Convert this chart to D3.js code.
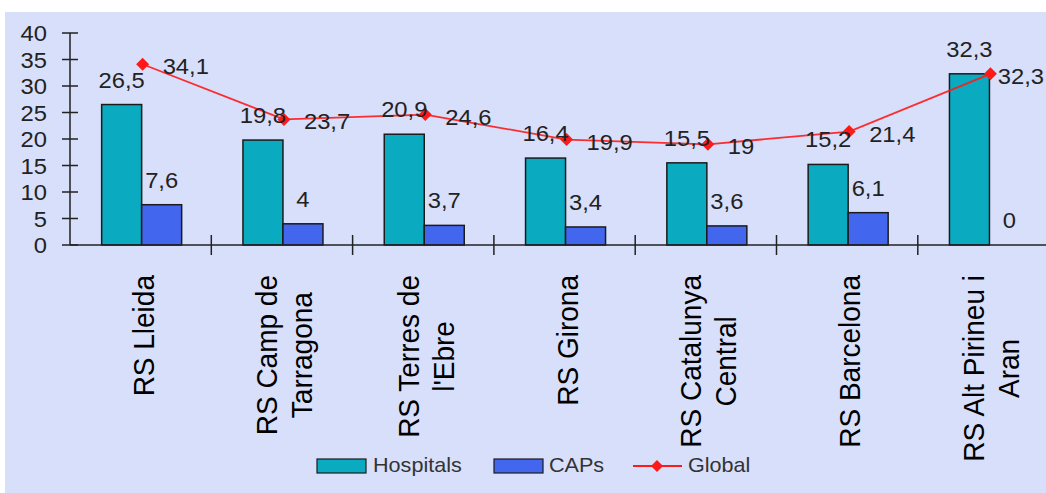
<!DOCTYPE html>
<html>
<head>
<meta charset="utf-8">
<script src="https://cdn.jsdelivr.net/npm/d3@7"></script>
<style>
  html, body { margin: 0; padding: 0; background: #ffffff; }
  svg { display: block; font-family: "Liberation Sans", Arial, sans-serif; }
</style>
</head>
<body>
<svg id="chart" width="1046" height="493"></svg>
<script>
// Regions and their rates
const categories = [
  "RS Lleida",
  "RS Camp de\nTarragona",
  "RS Terres de\nl'Ebre",
  "RS Girona",
  "RS Catalunya\nCentral",
  "RS Barcelona",
  "RS Alt Pirineu i\nAran"
];
const hospitals = [26.5, 19.8, 20.9, 16.4, 15.5, 15.2, 32.3];
const caps      = [7.6, 4, 3.7, 3.4, 3.6, 6.1, 0];
const global    = [34.1, 23.7, 24.6, 19.9, 19, 21.4, 32.3];
const yTicks    = [0, 5, 10, 15, 20, 25, 30, 35, 40];
const seriesNames = ["Hospitals", "CAPs", "Global"];

const colors = { hospitals: "#0aabc1", caps: "#4366ee", global: "#ff1a1a", bg: "#d8dffa" };
const fmt = v => String(v).replace(".", ",");
const SX = 1.08; // slight horizontal stretch of the lettering

const svg = d3.select("#chart");
const W = 1046, H = 493;

// panel background
svg.append("rect").attr("x", 5).attr("y", 12).attr("width", W - 5).attr("height", H - 12)
  .attr("fill", colors.bg);

const y = d3.scaleLinear().domain([0, 40]).range([245, 33]);
const x = d3.scaleBand().domain(categories).range([70, 70 + 7 * 141.3]).padding(0);
const sub = d3.scaleBand().domain(["Hospitals", "CAPs"]).range([-39, 41]).padding(0);
const cx = c => x(c) + x.bandwidth() / 2;

const rows = categories.map((c, i) => ({ c, h: hospitals[i], p: caps[i], g: global[i] }));

function stretchedText(g, tx, ty, str, anchor, size, fill) {
  return g.append("text")
    .attr("transform", `translate(${tx},${ty}) scale(${SX},1)`)
    .attr("text-anchor", anchor)
    .attr("font-size", size)
    .attr("fill", fill)
    .text(str);
}

// bars
const barG = svg.append("g");
rows.forEach(r => {
  [["Hospitals", r.h, colors.hospitals], ["CAPs", r.p, colors.caps]].forEach(([k, v, col]) => {
    barG.append("rect")
      .attr("x", cx(r.c) + sub(k))
      .attr("y", y(v))
      .attr("width", sub.bandwidth())
      .attr("height", y(0) - y(v))
      .attr("fill", col)
      .attr("stroke", "#1b1b1b")
      .attr("stroke-width", 1.5);
  });
});

// axes
const axG = svg.append("g").attr("stroke", "#222").attr("stroke-width", 1.5);
axG.append("line").attr("x1", 70).attr("x2", 70).attr("y1", y(40)).attr("y2", y(0));
axG.append("line").attr("x1", 70).attr("x2", W).attr("y1", y(0)).attr("y2", y(0));
yTicks.forEach(t => {
  axG.append("line").attr("x1", 62).attr("x2", 78).attr("y1", y(t)).attr("y2", y(t));
});
categories.slice(1).forEach(c => {
  axG.append("line").attr("x1", x(c)).attr("x2", x(c)).attr("y1", y(0) - 10).attr("y2", y(0) + 10);
});

// y tick labels
const tickG = svg.append("g");
yTicks.forEach(t => stretchedText(tickG, 47, y(t) + 8, t, "end", 22, "#222"));

// global line
const line = d3.line().x(d => cx(d.c) + 2).y(d => y(d.g));
svg.append("path").datum(rows).attr("d", line)
  .attr("fill", "none").attr("stroke", colors.global).attr("stroke-width", 1.8)
  .attr("opacity", 0.9);

const diamond = s => `M0,${-s}L${s},0L0,${s}L${-s},0Z`;
svg.append("g").selectAll("path").data(rows).join("path")
  .attr("transform", d => `translate(${cx(d.c) + 2},${y(d.g)})`)
  .attr("d", diamond(6.5))
  .attr("fill", colors.global);

// value labels
const lblG = svg.append("g");
rows.forEach(r => {
  stretchedText(lblG, cx(r.c) + sub("Hospitals") + sub.bandwidth() / 2, y(r.h) - 17, fmt(r.h), "middle", 22, "#222");
  stretchedText(lblG, cx(r.c) + sub("CAPs") + sub.bandwidth() / 2, y(r.p) - 17, fmt(r.p), "middle", 22, "#222");
  const gl = stretchedText(lblG, cx(r.c) + 22, y(r.g) + 10, fmt(r.g), "start", 22, "#222");
  // keep the rightmost label inside the panel
  const w = gl.node().getComputedTextLength() * SX;
  if (cx(r.c) + 22 + w > W - 2) {
    gl.attr("transform", `translate(${W - 2},${y(r.g) + 10}) scale(${SX},1)`).attr("text-anchor", "end");
  }
});

// category labels, rotated, longest line ending at a common top
const catG = svg.append("g");
const lineGap = 35, topY = 275;
categories.forEach(c => {
  const lines = c.split("\n");
  const n = lines.length;
  const texts = lines.map((ln, i) => catG.append("text")
    .attr("font-size", 28).attr("fill", "#000").attr("text-anchor", "middle").text(ln));
  const maxLen = d3.max(texts, t => t.node().getComputedTextLength());
  const midY = topY + maxLen / 2;
  texts.forEach((t, i) => {
    const bx = cx(c) + 13 + (i - (n - 1) / 2) * lineGap;
    t.attr("transform", `translate(${bx},${midY}) scale(${SX},1) rotate(-90)`);
  });
});

// legend
const lg = svg.append("g");
lg.append("rect").attr("x", 317).attr("y", 459).attr("width", 49).attr("height", 14)
  .attr("fill", colors.hospitals).attr("stroke", "#1b1b1b").attr("stroke-width", 1.2);
stretchedText(lg, 373, 472, seriesNames[0], "start", 20, "#333");
lg.append("rect").attr("x", 494).attr("y", 459).attr("width", 49).attr("height", 14)
  .attr("fill", colors.caps).attr("stroke", "#1b1b1b").attr("stroke-width", 1.2);
stretchedText(lg, 549, 472, seriesNames[1], "start", 20, "#333");
lg.append("line").attr("x1", 633).attr("x2", 682).attr("y1", 466).attr("y2", 466)
  .attr("stroke", colors.global).attr("stroke-width", 1.8);
lg.append("path").attr("transform", "translate(657,466)").attr("d", diamond(6))
  .attr("fill", colors.global);
stretchedText(lg, 688, 472, seriesNames[2], "start", 20, "#333");
</script>
</body>
</html>
